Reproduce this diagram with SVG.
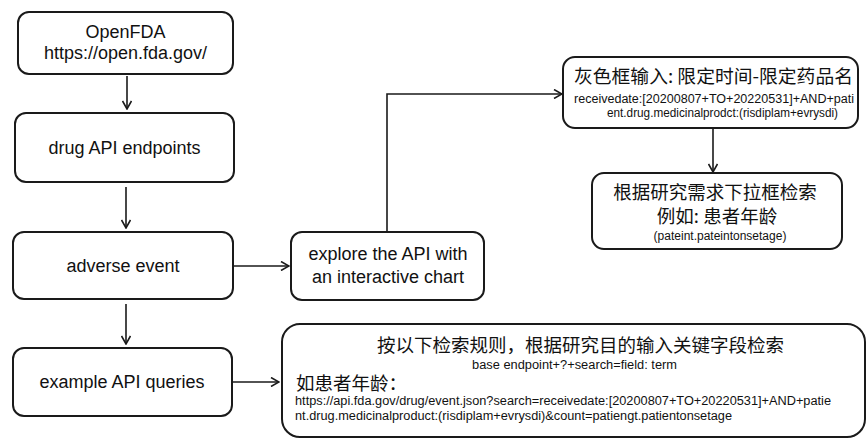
<svg xmlns="http://www.w3.org/2000/svg" width="867" height="439" viewBox="0 0 867 439">
<defs>
<style>
.box{fill:#fff;stroke:#1a1a1a;stroke-width:2}
.en{font-family:"Liberation Sans",Arial,sans-serif;font-size:18px;fill:#111;text-anchor:middle}
.sm{font-family:"Liberation Sans",Arial,sans-serif;font-size:12px;fill:#111}
.cn{font-family:"Noto Sans CJK SC",sans-serif;font-size:18.5px;fill:#111}
.mid{text-anchor:middle}
.con{fill:none;stroke:#1a1a1a;stroke-width:1.6}
</style>
<marker id="arr" viewBox="0 0 10 10" refX="9" refY="5" markerWidth="10" markerHeight="10" markerUnits="userSpaceOnUse" orient="auto">
<path d="M1,0.5 L9,5 L1,9.5" fill="none" stroke="#1a1a1a" stroke-width="1.6"/>
</marker>
</defs>
<g id="connectors">
<line class="con" x1="127" y1="76" x2="127" y2="109" marker-end="url(#arr)"/>
<line class="con" x1="126" y1="187" x2="126" y2="228" marker-end="url(#arr)"/>
<line class="con" x1="126" y1="304" x2="126" y2="344" marker-end="url(#arr)"/>
<line class="con" x1="233" y1="266" x2="289" y2="266" marker-end="url(#arr)"/>
<line class="con" x1="232" y1="382" x2="279" y2="382" marker-end="url(#arr)"/>
<polyline class="con" points="387,232 387,94 562,94" marker-end="url(#arr)"/>
<line class="con" x1="713" y1="128" x2="713" y2="172" marker-end="url(#arr)"/>
</g>
<g id="node-openfda">
<rect class="box" x="18" y="12" width="215" height="62" rx="11"/>
<text class="en" x="125.5" y="38">OpenFDA</text>
<text class="en" x="125.5" y="59">https://open.fda.gov/</text>
</g>
<g id="node-drug">
<rect class="box" x="15" y="113" width="219" height="69" rx="11"/>
<text class="en" x="124.5" y="154">drug API endpoints</text>
</g>
<g id="node-adverse">
<rect class="box" x="13" y="232" width="220" height="67" rx="11"/>
<text class="en" x="123" y="272">adverse event</text>
</g>
<g id="node-example">
<rect class="box" x="13" y="348" width="219" height="68" rx="11"/>
<text class="en" x="122" y="388">example API queries</text>
</g>
<g id="node-explore">
<rect class="box" x="291" y="232" width="193" height="68" rx="11"/>
<text class="en" x="388" y="260">explore the API with</text>
<text class="en" x="388" y="283">an interactive chart</text>
</g>
<g id="node-gray">
<rect class="box" x="563" y="57" width="295" height="71" rx="12"/>
<text class="cn" x="574" y="83" textLength="279" lengthAdjust="spacingAndGlyphs">灰色框输入: 限定时间-限定药品名</text>
<text class="sm" x="574" y="103" textLength="280" lengthAdjust="spacingAndGlyphs">receivedate:[20200807+TO+20220531]+AND+pati</text>
<text class="sm" x="607" y="117" textLength="231" lengthAdjust="spacingAndGlyphs">ent.drug.medicinalprodct:(risdiplam+evrysdi)</text>
</g>
<g id="node-search">
<rect class="box" x="592" y="173" width="250" height="76" rx="12"/>
<text class="cn mid" x="715" y="199">根据研究需求下拉框检索</text>
<text class="cn mid" x="717" y="223">例如: 患者年龄</text>
<text class="sm mid" x="720" y="240">(pateint.pateintonsetage)</text>
</g>
<g id="node-rules">
<rect class="box" x="282" y="324" width="583" height="113" rx="18"/>
<text class="cn mid" x="580.5" y="352">按以下检索规则，根据研究目的输入关键字段检索</text>
<text class="sm mid" x="574.5" y="369" textLength="205" lengthAdjust="spacingAndGlyphs">base endpoint+?+search=field: term</text>
<text class="cn" x="296" y="390">如患者年龄：</text>
<text class="sm" x="295" y="405" textLength="536" lengthAdjust="spacingAndGlyphs">https://api.fda.gov/drug/event.json?search=receivedate:[20200807+TO+20220531]+AND+patie</text>
<text class="sm" x="295" y="420" textLength="437" lengthAdjust="spacingAndGlyphs">nt.drug.medicinalproduct:(risdiplam+evrysdi)&amp;count=patiengt.patientonsetage</text>
</g>
</svg>
